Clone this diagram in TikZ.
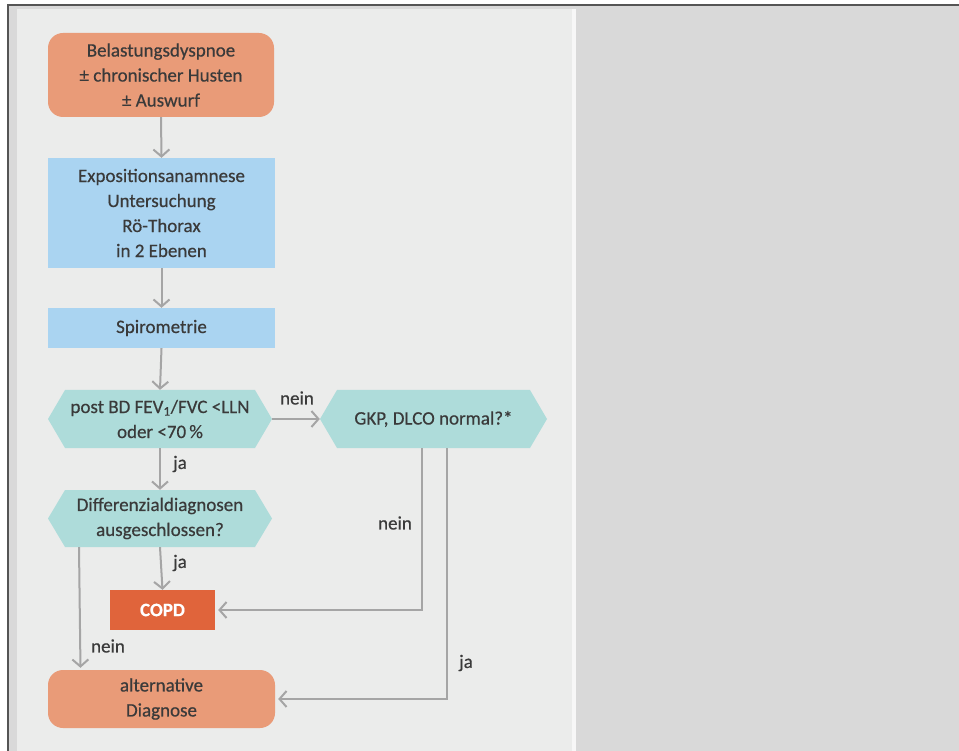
\documentclass[tikz,border=0pt]{standalone}
\usepackage{fontspec}
\setmainfont{Carlito}[FakeBold=0.5]
\usetikzlibrary{arrows.meta}
\definecolor{frame}{HTML}{555555}
\definecolor{outer}{HTML}{D9D9D9}
\definecolor{panel}{HTML}{EBECEB}
\definecolor{salmon}{HTML}{E99B78}
\definecolor{lblue}{HTML}{AAD4F1}
\definecolor{teal}{HTML}{AEDCDA}
\definecolor{copd}{HTML}{E0643B}
\definecolor{txt}{HTML}{3A3A3A}
\definecolor{conn}{HTML}{A5A5A5}
\tikzset{
  base/.style={inner sep=0pt, align=center, text=txt, font=\fontsize{19}{25}\selectfont},
  roundbox/.style={base, rectangle, rounded corners=15pt, fill=salmon, minimum width=226pt},
  bluebox/.style={base, rectangle, fill=lblue, minimum width=227pt},
  hexbox/.style={base, rectangle, minimum width=224pt, minimum height=58pt,
    path picture={\fill[teal] (path picture bounding box.west)
      -- ([xshift=17pt]path picture bounding box.north west)
      -- ([xshift=-17pt]path picture bounding box.north east)
      -- (path picture bounding box.east)
      -- ([xshift=-17pt]path picture bounding box.south east)
      -- ([xshift=17pt]path picture bounding box.south west) -- cycle;}},
  copdbox/.style={base, rectangle, fill=copd, text=white, font=\fontsize{19}{25}\selectfont\bfseries, minimum width=105pt, minimum height=40pt},
  arr/.style={draw=conn, line width=2pt, -{Straight Barb[length=7pt,width=16pt,line width=2pt]}},
  lbl/.style={base, inner sep=0pt}
}
\begin{document}
\begin{tikzpicture}[x=1pt,y=-1pt]
\useasboundingbox (0,0) rectangle (959,751);
\fill[white] (0,0) rectangle (959,751);
\fill[outer] (8,5) rectangle (959,751);
\fill[panel] (17,9) rectangle (572,751);
\fill[white!60!panel] (572,9) rectangle (576,751);
\draw[frame, line width=2pt] (8,751) -- (8,5) -- (959,5);

\node[roundbox, minimum height=84pt] (top) at (161,75) {Belastungsdyspnoe\\± chronischer Husten\\± Auswurf};
\node[bluebox, minimum height=110pt] (expo) at (161.5,213) {Expositionsanamnese\\Untersuchung\\Rö-Thorax\\in 2 Ebenen};
\node[bluebox, minimum height=40pt] (spiro) at (161.5,328) {Spirometrie};
\node[hexbox] (hexa) at (160,419) {post BD FEV\textsubscript{1}/FVC <LLN\\oder <70\,\%};
\node[hexbox, minimum width=227pt] (hexb) at (433.5,419) {GKP, DLCO normal?*};
\node[hexbox, minimum height=57pt] (hexc) at (160,518.5) {Differenzialdiagnosen\\ausgeschlossen?};
\node[copdbox] (copd) at (162.5,610) {COPD};
\node[roundbox, minimum width=227pt, minimum height=58pt] (alt) at (161.5,699) {alternative\\Diagnose};

\draw[arr] (top.south) -- (expo.north);
\draw[arr] (expo.south) -- (spiro.north);
\draw[arr] (spiro.south) -- (hexa.north);
\draw[arr] (hexa.east) -- (hexb.west);
\draw[arr] (hexa.south) -- (hexc.north);
\draw[arr] (hexc.south) -- (copd.north);
\coordinate (c1) at ([xshift=-81pt]hexc.south);
\coordinate (c2) at ([xshift=-81pt]alt.north);
\draw[arr, shorten >=2pt] (c1) -- (c2);
\coordinate (c3) at ([xshift=-11.5pt]hexb.south);
\coordinate (c4) at ([xshift=13.5pt]hexb.south);
\draw[arr, shorten >=3pt] (c3) |- (copd.east);
\draw[arr, shorten >=3pt] (c4) |- (alt.east);

\node[lbl] (l1) at (297,398) {nein};
\node[lbl] (l2) at (180,464) {ja};
\node[lbl] (l3) at (180,563) {ja};
\node[lbl] (l4) at (108,646) {nein};
\node[lbl] (l5) at (395,523) {nein};
\node[lbl] (l6) at (466,663) {ja};
\end{tikzpicture}
\end{document}
